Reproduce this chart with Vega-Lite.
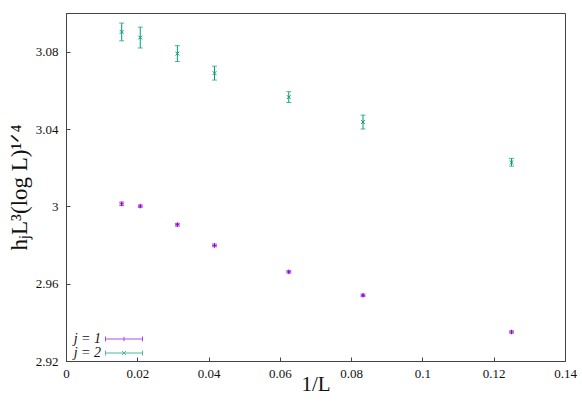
{
  "$schema": "https://vega.github.io/schema/vega-lite/v6.json",
  "autosize": {"type": "none"},
  "padding": {"left": 66, "top": 13, "right": 17, "bottom": 43},
  "width": 499,
  "height": 348,
  "background": "white",
  "config": {
    "view": {"stroke": "#444", "strokeWidth": 1},
    "font": "Liberation Serif",
    "axis": {
      "domainColor": "#444",
      "domainWidth": 1,
      "tickColor": "#444",
      "tickSize": -4,
      "grid": false,
      "labelOverlap": false,
      "labelFont": "Liberation Serif",
      "labelFontSize": 13,
      "labelColor": "#111",
      "titleFont": "Liberation Serif",
      "titleFontWeight": "normal",
      "titleColor": "#111"
    }
  },
  "data": {
    "values": [
      {"invL": 0.015625, "y": 3.0013, "lo": 3.0004, "hi": 3.0022, "j": "j = 1"},
      {"invL": 0.020833, "y": 3.0001, "lo": 2.9995, "hi": 3.0007, "j": "j = 1"},
      {"invL": 0.03125, "y": 2.9905, "lo": 2.9898, "hi": 2.9912, "j": "j = 1"},
      {"invL": 0.041667, "y": 2.9798, "lo": 2.9791, "hi": 2.9805, "j": "j = 1"},
      {"invL": 0.0625, "y": 2.9661, "lo": 2.9655, "hi": 2.9667, "j": "j = 1"},
      {"invL": 0.083333, "y": 2.954, "lo": 2.9534, "hi": 2.9546, "j": "j = 1"},
      {"invL": 0.125, "y": 2.935, "lo": 2.9344, "hi": 2.9356, "j": "j = 1"},
      {"invL": 0.015625, "y": 3.0902, "lo": 3.0856, "hi": 3.0948, "j": "j = 2"},
      {"invL": 0.020833, "y": 3.0873, "lo": 3.0819, "hi": 3.0927, "j": "j = 2"},
      {"invL": 0.03125, "y": 3.079, "lo": 3.0749, "hi": 3.0831, "j": "j = 2"},
      {"invL": 0.041667, "y": 3.0689, "lo": 3.0653, "hi": 3.0725, "j": "j = 2"},
      {"invL": 0.0625, "y": 3.0565, "lo": 3.0537, "hi": 3.0593, "j": "j = 2"},
      {"invL": 0.083333, "y": 3.0436, "lo": 3.04, "hi": 3.0472, "j": "j = 2"},
      {"invL": 0.125, "y": 3.0228, "lo": 3.0208, "hi": 3.0248, "j": "j = 2"}
    ]
  },
  "layer": [
    {
      "mark": {"type": "rule", "strokeWidth": 1},
      "encoding": {
        "x": {"field": "invL", "type": "quantitative",
          "scale": {"domain": [0, 0.14], "nice": false, "zero": false},
          "axis": {"orient": "bottom", "values": [0, 0.02, 0.04, 0.06, 0.08, 0.1, 0.12, 0.14], "format": "~g", "labelOverlap": false, "labelPadding": 10, "title": "1/L", "titleFontSize": 21, "titlePadding": -7, "labelFlush": false}},
        "y": {"field": "lo", "type": "quantitative",
          "scale": {"domain": [2.92, 3.1], "nice": false, "zero": false},
          "axis": {"orient": "left", "values": [2.92, 2.94, 2.96, 2.98, 3, 3.02, 3.04, 3.06, 3.08, 3.1], "format": "~g", "labelOverlap": false, "labelSeparation": 0, "labelPadding": 12, "title": "hⱼL³(log L)¹ᐟ⁴", "titleFontSize": 23, "titlePadding": 4, "labelFlush": false}},
        "y2": {"field": "hi"},
        "color": {"field": "j", "type": "nominal", "scale": {"domain": ["j = 1", "j = 2"], "range": ["#9400d3", "#009e73"]}}
      }
    },
    {
      "mark": {"type": "tick", "orient": "horizontal", "size": 5, "thickness": 1},
      "encoding": {
        "x": {"field": "invL", "type": "quantitative"},
        "y": {"field": "lo", "type": "quantitative"},
        "color": {"field": "j", "type": "nominal"}
      }
    },
    {
      "mark": {"type": "tick", "orient": "horizontal", "size": 5, "thickness": 1},
      "encoding": {
        "x": {"field": "invL", "type": "quantitative"},
        "y": {"field": "hi", "type": "quantitative"},
        "color": {"field": "j", "type": "nominal"}
      }
    },
    {
      "transform": [{"filter": "datum.j === 'j = 1'"}],
      "mark": {"type": "point", "shape": "M-1,0H1M0,-1V1", "filled": false, "size": 20, "strokeWidth": 1, "opacity": 1},
      "encoding": {
        "x": {"field": "invL", "type": "quantitative"},
        "y": {"field": "y", "type": "quantitative"},
        "color": {"field": "j", "type": "nominal"}
      }
    },
    {
      "transform": [{"filter": "datum.j === 'j = 2'"}],
      "mark": {"type": "point", "shape": "M-1,-1L1,1M-1,1L1,-1", "filled": false, "size": 14, "strokeWidth": 1, "opacity": 1},
      "encoding": {
        "x": {"field": "invL", "type": "quantitative"},
        "y": {"field": "y", "type": "quantitative"},
        "color": {"field": "j", "type": "nominal"}
      }
    },
    {
      "mark": {"type": "point", "size": 0, "filled": false, "strokeWidth": 1},
      "encoding": {
        "x": {"field": "invL", "type": "quantitative"},
        "y": {"field": "y", "type": "quantitative"},
        "color": {"field": "j", "type": "nominal",
          "legend": {
            "title": null, "orient": "bottom-left", "offset": 1, "padding": 0, "rowPadding": 0,
            "symbolSize": 100, "symbolStrokeWidth": 1, "symbolOpacity": 1, "symbolOffset": 50,
            "labelAlign": "right", "labelOffset": -30, "labelFont": "Liberation Serif", "labelFontSize": 14, "labelFontStyle": "italic", "labelColor": "#111"
          }
        },
        "shape": {"field": "j", "type": "nominal",
          "scale": {"domain": ["j = 1", "j = 2"], "range": [
            "M-3.7,0H3.7M-3.7,-0.5V0.5M3.7,-0.5V0.5M0,-0.45V0.45",
            "M-3.7,0H3.7M-3.7,-0.5V0.5M3.7,-0.5V0.5M-0.4,-0.4L0.4,0.4M-0.4,0.4L0.4,-0.4"
          ]},
          "legend": {
            "title": null, "orient": "bottom-left", "offset": 1, "padding": 0, "rowPadding": 0,
            "symbolSize": 100, "symbolStrokeWidth": 1, "symbolOpacity": 1, "symbolOffset": 50,
            "labelAlign": "right", "labelOffset": -30, "labelFont": "Liberation Serif", "labelFontSize": 14, "labelFontStyle": "italic", "labelColor": "#111",
            "encode": {"symbols": {"update": {"size": {"value": 100}, "opacity": {"value": 1}, "strokeWidth": {"value": 1}, "fill": {"value": "transparent"}}}}
          }
        }
      }
    }
  ]
}
